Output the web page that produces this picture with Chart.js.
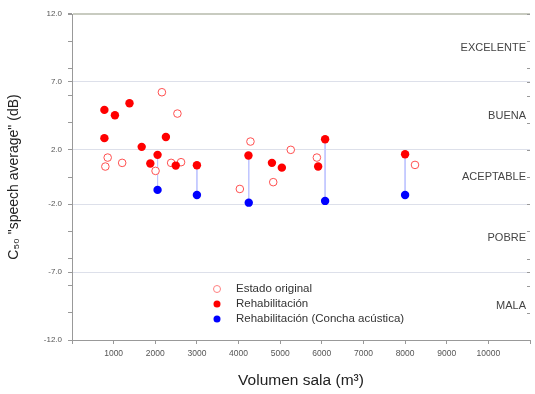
<!DOCTYPE html>
<html>
<head>
<meta charset="utf-8">
<script src="https://cdn.jsdelivr.net/npm/chart.js@4"></script>
<style>
    body { margin: 0; background: #fff; }
    #wrap { width: 535px; height: 394px; }
</style>
</head>
<body>
<div id="wrap"><canvas id="c50Chart" width="535" height="394"></canvas></div>
<script>
// Estado original (open markers)
const origX = [2159, 2532, 857, 801, 1205, 2007, 2381, 2619, 4286, 4031, 5254, 4833, 5881, 8238];
const origY = [6.24, 4.67, 1.43, 0.77, 1.04, 0.45, 1.04, 1.09, 2.61, -0.88, 2.0, -0.38, 1.43, 0.89];
// Rehabilitación
const rehabX = [778, 1031, 1381, 778, 1674, 2055, 2255, 1881, 2492, 3000, 4238, 4802, 5040, 5912, 6079, 8000];
const rehabY = [4.94, 4.55, 5.43, 2.86, 2.22, 1.63, 2.95, 0.99, 0.84, 0.87, 1.58, 1.04, 0.69, 0.77, 2.78, 1.68];
// Rehabilitación (Concha acústica)
const conchaX = [2055, 3000, 4245, 6079, 8000];
const conchaY = [-0.95, -1.32, -1.89, -1.76, -1.32];
// links rehab -> concha
const linkTop = [1.63, 0.87, 1.58, 2.78, 1.68];

const yMajor = [-12, -7, -2, 2, 7, 12];
const yMinor = [-10, -8, -6, -4, 0, 4, 6, 8, 10];
const bandNames = ['EXCELENTE', 'BUENA', 'ACEPTABLE', 'POBRE', 'MALA'];
const bandCenters = [9.5, 4.5, 0, -4.5, -9.5];
const legendNames = ['Estado original', 'Rehabilitación', 'Rehabilitación (Concha acústica)'];

function toPoints(xs, ys) {
    return xs.map((x, i) => ({ x: x, y: ys[i] }));
}

function getLinkData() {
    let pts = [];
    conchaX.forEach((x, i) => {
        pts.push({ x: x, y: linkTop[i] });
        pts.push({ x: x, y: conchaY[i] });
        pts.push({ x: x, y: null });
    });
    return pts;
}

const bandPlugin = {
    id: 'bandLabels',
    afterDraw(chart) {
        const { ctx, chartArea: { right }, scales: { y } } = chart;
        ctx.save();
        ctx.fillStyle = '#444';
        ctx.font = '11px "Liberation Sans", Arial';
        ctx.textAlign = 'right';
        ctx.textBaseline = 'middle';
        bandNames.forEach((name, i) => {
            ctx.fillText(name, right - 4, y.getPixelForValue(bandCenters[i]));
        });
        // right side tick marks
        ctx.strokeStyle = '#999';
        ctx.lineWidth = 1;
        yMajor.concat(yMinor).forEach(v => {
            const py = Math.round(y.getPixelForValue(v)) + 0.5;
            ctx.beginPath();
            ctx.moveTo(right - 3, py);
            ctx.lineTo(right, py);
            ctx.stroke();
        });

        // legend inside plot
        const lx = 217, ly = 289, gap = 15;
        ctx.textAlign = 'left';
        ctx.font = '11.5px "Liberation Sans", Arial';
        legendNames.forEach((name, i) => {
            const py = ly + i * gap;
            ctx.beginPath();
            if (i == 0) {
                ctx.strokeStyle = '#ff8080';
                ctx.fillStyle = '#fff';
                ctx.arc(lx, py, 3.5, 0, Math.PI * 2);
                ctx.fill();
                ctx.stroke();
            } else {
                ctx.fillStyle = i == 1 ? '#ff0000' : '#0000ff';
                ctx.arc(lx, py, 3.5, 0, Math.PI * 2);
                ctx.fill();
            }
            ctx.fillStyle = '#333';
            ctx.fillText(name, lx + 19, py);
        });
        ctx.restore();
    }
};

function drawC50Chart() {
    const ctx = document.getElementById('c50Chart').getContext('2d');
    new Chart(ctx, {
        type: 'scatter',
        data: {
            datasets: [
                {
                    type: 'line',
                    label: 'links',
                    data: getLinkData(),
                    borderColor: '#c0c6ff',
                    borderWidth: 1,
                    pointRadius: 0,
                    spanGaps: false,
                    order: 3
                },
                {
                    label: legendNames[0],
                    data: toPoints(origX, origY),
                    pointStyle: 'circle',
                    pointRadius: 3.8,
                    backgroundColor: '#fff',
                    borderColor: '#ff5050',
                    borderWidth: 1,
                    order: 2
                },
                {
                    label: legendNames[1],
                    data: toPoints(rehabX, rehabY),
                    pointRadius: 4.2,
                    backgroundColor: '#ff0000',
                    borderColor: '#ff0000',
                    borderWidth: 0,
                    order: 1
                },
                {
                    label: legendNames[2],
                    data: toPoints(conchaX, conchaY),
                    pointRadius: 4.2,
                    backgroundColor: '#0000ff',
                    borderColor: '#0000ff',
                    borderWidth: 0,
                    order: 1
                }
            ]
        },
        options: {
            responsive: false,
            animation: false,
            layout: { padding: { top: 14, right: -2, left: 0, bottom: 0 } },
            plugins: {
                legend: { display: false },
                tooltip: { enabled: false }
            },
            scales: {
                x: {
                    type: 'linear',
                    min: 0,
                    max: 11000,
                    afterFit(scale) { scale.height = 54; },
                    border: { color: '#999', width: 1 },
                    grid: { drawOnChartArea: false, tickLength: 4, color: '#999' },
                    ticks: {
                        stepSize: 1000,
                        color: '#555',
                        font: { size: 8.5, family: '"Liberation Sans", Arial' },
                        padding: 5,
                        maxRotation: 0,
                        callback: v => (v == 0 || v == 11000) ? '' : v
                    },
                    title: {
                        display: true,
                        text: 'Volumen sala (m³)',
                        color: '#222',
                        font: { size: 15.5, family: '"Liberation Sans", Arial' },
                        padding: { top: 12 }
                    }
                },
                y: {
                    min: -12,
                    max: 12,
                    afterFit(scale) { scale.width = 72; },
                    afterBuildTicks(scale) {
                        scale.ticks = yMajor.concat(yMinor).sort((a, b) => a - b).map(v => ({ value: v }));
                    },
                    border: { color: '#999', width: 1 },
                    grid: {
                        tickLength: 4,
                        tickColor: '#999',
                        color: c => {
                            const v = c.tick && c.tick.value;
                            if (v == 12) return '#c8cbc0';
                            if (yMajor.includes(v) && v != -12) return '#dde0ea';
                            return 'rgba(0,0,0,0)';
                        },
                        lineWidth: c => (c.tick && c.tick.value == 12) ? 2 : 1
                    },
                    ticks: {
                        color: '#555',
                        font: { size: 8, family: '"Liberation Sans", Arial' },
                        padding: 6,
                        callback: v => yMajor.includes(v) ? v.toFixed(1) : ''
                    },
                    title: {
                        display: true,
                        text: 'C₅₀ "speech average" (dB)',
                        color: '#222',
                        font: { size: 14, family: '"Liberation Sans", Arial' },
                        padding: { top: 6, bottom: 6 }
                    }
                }
            }
        },
        plugins: [bandPlugin]
    });
}

drawC50Chart();
</script>
</body>
</html>
